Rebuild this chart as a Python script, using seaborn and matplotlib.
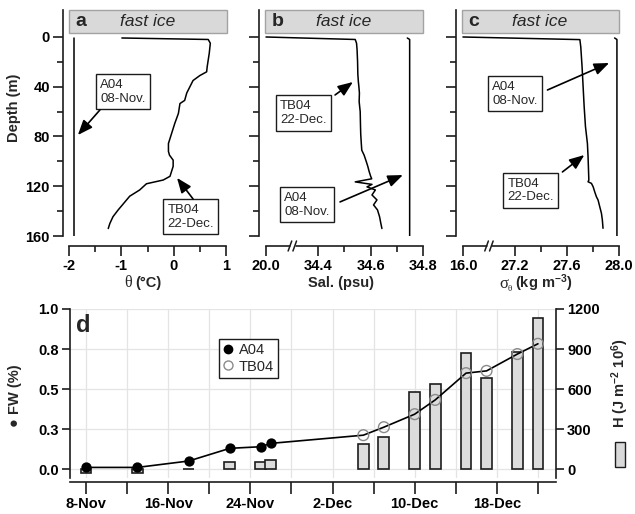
import numpy as np
import pandas as pd
import matplotlib
matplotlib.use("Agg")
import matplotlib.pyplot as plt
from matplotlib.patches import Rectangle
from matplotlib.lines import Line2D
import seaborn as sns

# ---------------- vertical profiles (depth in m) ----------------
a04_theta_depth = [1, 160]
a04_theta = [-1.90, -1.90]
tb04_theta_depth = [0.8, 2, 5, 13, 24, 28, 31, 35, 45, 51, 53.5, 61.5, 69.6, 77.6,
                    85.6, 92, 95, 99, 104, 112, 115, 118, 123, 128, 139, 144.5, 150, 154]
tb04_theta = [-0.99, 0.66, 0.70, 0.68, 0.64, 0.63, 0.50, 0.37, 0.25, 0.21, 0.12, 0.09,
              0.02, -0.04, -0.10, -0.10, -0.08, -0.01, -0.01, -0.07, -0.20, -0.52, -0.65,
              -0.84, -1.06, -1.16, -1.22, -1.25]

a04_sal_depth = [0.8, 2, 160]
a04_sal = [34.740, 34.749, 34.749]
tb04_sal_depth = [0, 2, 5, 10, 20, 30, 36, 40, 45, 52, 60, 70, 78, 85, 91, 95, 100, 104,
                  108, 112, 114, 116.5, 118.5, 120.5, 123, 127, 131, 135, 139, 144.5, 150, 154]
tb04_sal = [20.0, 34.541, 34.546, 34.548, 34.550, 34.551, 34.553, 34.555, 34.557, 34.556,
            34.560, 34.561, 34.562, 34.564, 34.566, 34.575, 34.583, 34.589, 34.594, 34.600,
            34.604, 34.541, 34.605, 34.586, 34.618, 34.605, 34.624, 34.611, 34.626, 34.634,
            34.639, 34.643]

a04_sig_depth = [0.8, 2, 160]
a04_sig = [27.966, 27.984, 27.984]
tb04_sig_depth = [0, 2.1, 8, 24, 40, 56, 72, 85.6, 96.3, 115, 116.4, 117.7, 120.4, 124.4,
                  128.4, 131.1, 136.5, 141.8, 147.2, 153.8]
tb04_sig = [16.0, 27.699, 27.706, 27.716, 27.724, 27.732, 27.742, 27.757, 27.762, 27.768,
            27.762, 27.788, 27.801, 27.813, 27.826, 27.839, 27.852, 27.865, 27.872, 27.877]

depth_ticks = [0, 40, 80, 120, 160]
depth_minor = [20, 60, 100, 140]
theta_ticks = [-2, -1, 0, 1]
sal_ticks = [20.0, 34.4, 34.6, 34.8]
sig_ticks = [16.0, 27.2, 27.6, 28.0]

# ---------------- time series ----------------
a04_dates = ["2004-11-08", "2004-11-13", "2004-11-18", "2004-11-22", "2004-11-25", "2004-11-26"]
a04_fw = [0.012, 0.012, 0.052, 0.131, 0.141, 0.162]
a04_heat = [-30, -30, 4, 57, 57, 69]
tb04_dates = ["2004-12-05", "2004-12-07", "2004-12-10", "2004-12-12",
              "2004-12-15", "2004-12-17", "2004-12-20", "2004-12-22"]
tb04_fw = [0.213, 0.263, 0.344, 0.433, 0.600, 0.614, 0.719, 0.783]
tb04_heat = [186, 241, 577, 635, 871, 680, 879, 1133]
fw_ticks = [0.0, 0.25, 0.5, 0.75, 1.0]
fw_tick_labels = ["0.0", "0.3", "0.5", "0.8", "1.0"]
heat_ticks = [0, 300, 600, 900, 1200]

sns.set_theme(style="ticks")
plt.rcParams["font.family"] = ["Liberation Sans", "DejaVu Sans"]
plt.rcParams["mathtext.default"] = "regular"
INK = "#1c1c1c"
plt.rcParams.update({
    "axes.edgecolor": INK, "axes.linewidth": 1.2,
    "xtick.color": INK, "ytick.color": INK,
    "xtick.major.width": 1.2, "ytick.major.width": 1.2,
    "xtick.minor.width": 1.2, "ytick.minor.width": 1.2,
    "xtick.labelcolor": "black", "ytick.labelcolor": "black",
})

W, H = 635, 514
fig = plt.figure(figsize=(W / 100, H / 100), dpi=100)


def px_rect(x0, x1, y_top, y_bot):
    return [x0 / W, (H - y_bot) / H, (x1 - x0) / W, (y_bot - y_top) / H]


def broken(v, lo, lo_pos, first):
    """Squeeze values below `first` into the short broken segment of the axis."""
    v = np.asarray(v, float)
    return np.where(v < first, lo_pos + (v - lo) / (first - lo) * (first - lo_pos), v)


def profile_panel(rect, xlim, xticks, xlabels, xminor, letter, show_ylabels):
    ax = fig.add_axes(rect)
    ax.set_xlim(*xlim)
    ax.set_ylim(160, -21.7)
    for s in ("top", "right"):
        ax.spines[s].set_visible(False)
    ax.spines["bottom"].set_position(("outward", 7.2))
    ax.spines["bottom"].set_bounds(xticks[0], xticks[-1])
    ax.set_xticks(xticks)
    ax.set_xticklabels(xlabels)
    ax.set_xticks(xminor, minor=True)
    ax.set_yticks(depth_ticks)
    ax.set_yticks(depth_minor, minor=True)
    ax.tick_params(which="major", length=7, direction="out", pad=2.5,
                   labelsize=10.5)
    ax.tick_params(which="minor", length=4.5, direction="out")
    for lab in ax.get_xticklabels() + ax.get_yticklabels():
        lab.set_fontweight("bold")
    if not show_ylabels:
        ax.tick_params(axis="y", labelleft=False)
    ax.set_xlabel("")
    ax.set_ylabel("")
    # header strip
    ax.add_patch(Rectangle((0.034, 0.898), 0.96, 0.102, transform=ax.transAxes,
                           facecolor="#d9d9d9", edgecolor="#a3a3a3", lw=1.0,
                           clip_on=False, zorder=5))
    ax.text(0.11, 0.947, letter, transform=ax.transAxes, ha="center", va="center",
            fontsize=14, fontweight="bold", zorder=6)
    ax.text(0.51, 0.947, "fast ice", transform=ax.transAxes, ha="center",
            va="center", fontsize=12.5, style="italic", zorder=6)
    return ax


def add_break(ax, frac):
    y = -10 / 226
    dx, dy = 1.8 / 165, 5 / 226
    ax.plot([frac - 2.2 / 165, frac + 2.2 / 165], [y, y], color="white", lw=2.5,
            transform=ax.transAxes, clip_on=False, zorder=8, solid_capstyle="butt")
    for off in (-2.4 / 165, 2.4 / 165):
        ax.plot([frac + off - dx, frac + off + dx], [y - dy, y + dy], color=INK,
                lw=1.1, transform=ax.transAxes, clip_on=False, zorder=9)


def label_box(ax, x, y, txt):
    ax.text(x, y, txt, ha="center", va="center", ma="left", fontsize=9.5, zorder=7,
            bbox=dict(boxstyle="square,pad=0.35", fc="white", ec=INK, lw=1.0))


def arrow(ax, head, tail):
    ax.annotate("", xy=head, xytext=tail, zorder=8,
                arrowprops=dict(arrowstyle="-|>,head_length=0.75,head_width=0.3",
                                color="black", lw=1.2, shrinkA=0, shrinkB=0))


def profile(ax, x, depth):
    df = pd.DataFrame({"x": x, "depth": depth})
    sns.lineplot(data=df, x="x", y="depth", sort=False, estimator=None,
                 color="black", lw=1.1, ax=ax)
    ax.set_xlabel("")
    ax.set_ylabel("")


# ---- (a) potential temperature ----
ax_a = profile_panel(px_rect(63, 228, 10, 236), (-2.1147, 1.038), theta_ticks,
                     [f"{t:d}" for t in theta_ticks], [-1.5, -0.5, 0.5], "a", True)
profile(ax_a, a04_theta, a04_theta_depth)
profile(ax_a, tb04_theta, tb04_theta_depth)
label_box(ax_a, -0.968, 44.2, "A04\n08-Nov.")
arrow(ax_a, (-1.83, 78.8), (-1.41, 58.7))
label_box(ax_a, 0.322, 144.7, "TB04\n22-Dec.")
arrow(ax_a, (0.064, 113.3), (0.37, 130.2))

# ---- (b) salinity, broken axis below 34.4 ----
sal_map = lambda v: broken(v, 20.0, 34.2, 34.4)
ax_b = profile_panel(px_rect(259, 424, 10, 236), (34.1733, 34.8038),
                     list(sal_map(sal_ticks)), [f"{t:.1f}" for t in sal_ticks],
                     [34.5, 34.7], "b", False)
profile(ax_b, sal_map(a04_sal), a04_sal_depth)
profile(ax_b, sal_map(tb04_sal), tb04_sal_depth)
add_break(ax_b, 0.202)
label_box(ax_b, 34.343, 61.1, "TB04\n22-Dec.")
arrow(ax_b, (34.532, 36.2), (34.464, 46.6))
label_box(ax_b, 34.357, 135.0, "A04\n08-Nov.")
arrow(ax_b, (34.723, 111.0), (34.483, 132.6))

# ---- (c) potential density, broken axis below 27.2 ----
sig_map = lambda v: broken(v, 16.0, 26.8, 27.2)
ax_c = profile_panel(px_rect(456, 620, 10, 236), (26.7465, 28.0076),
                     list(sig_map(sig_ticks)), [f"{t:.1f}" for t in sig_ticks],
                     [27.4, 27.8], "c", False)
profile(ax_c, sig_map(a04_sig), a04_sig_depth)
profile(ax_c, sig_map(tb04_sig), tb04_sig_depth)
add_break(ax_c, 0.201)
label_box(ax_c, 27.201, 45.8, "A04\n08-Nov.")
arrow(ax_c, (27.924, 20.9), (27.45, 42.6))
label_box(ax_c, 27.32, 123.4, "TB04\n22-Dec.")
arrow(ax_c, (27.733, 94.9), (27.565, 108.5))

# axis titles of the profile panels
fig.text(14 / W, 1 - 108 / H, "Depth (m)", rotation=90, ha="center", va="center",
         fontsize=10.5, fontweight="bold")
fig.text(128 / W, 1 - 283 / H, "θ", family="Liberation Serif", fontsize=11.5,
         ha="center", va="center")
fig.text(135 / W, 1 - 283 / H, "(°C)", fontsize=10.5, fontweight="bold",
         ha="left", va="center")
fig.text(341 / W, 1 - 283 / H, "Sal. (psu)", fontsize=10.5, fontweight="bold",
         ha="center", va="center")
fig.text(504 / W, 1 - 284 / H, "σ", family="Liberation Serif", fontsize=12,
         ha="center", va="center")
fig.text(510 / W, 1 - 289 / H, "θ", family="Liberation Serif", fontsize=6.5,
         ha="center", va="center")
fig.text(515 / W, 1 - 283 / H, "(kg m$^{-3}$)", fontsize=10.5, fontweight="bold",
         ha="left", va="center")

# ---------------- (d) fresh water and heat content ----------------
a04_t = pd.to_datetime(a04_dates)
tb04_t = pd.to_datetime(tb04_dates)
all_t = a04_t.append(tb04_t)
all_fw = list(a04_fw) + list(tb04_fw)

axd = fig.add_axes(px_rect(70, 556, 309, 478))
axh = axd.twinx()
axd.set_zorder(axh.get_zorder() + 1)
axd.patch.set_visible(False)

start = pd.Timestamp("2004-11-08")
axd.set_xlim(start - pd.Timedelta(days=1.56), start + pd.Timedelta(days=45.76))
axd.set_ylim(-0.054, 1.0)
axh.set_ylim(-0.054 * 1200, 1200)

date_ticks = pd.date_range("2004-11-08", "2004-12-22", freq="4D")
for d in date_ticks:
    axh.axvline(d, color="#e4e4e4", lw=0.9, zorder=0.5)
axh.set_yticks(heat_ticks)
axh.grid(axis="y", color="#e4e4e4", lw=0.9)
axh.set_axisbelow(True)

axh.bar(a04_t, a04_heat, width=1.05, color="#dcdcdc", edgecolor=INK, linewidth=1.2,
        zorder=2)
axh.bar(tb04_t, tb04_heat, width=1.05, color="#dcdcdc", edgecolor=INK, linewidth=1.2,
        zorder=2)

sns.lineplot(x=all_t, y=all_fw, color="black", lw=1.2, ax=axd, estimator=None)
sns.scatterplot(x=a04_t, y=a04_fw, color="black", s=55, linewidth=0, ax=axd, zorder=4)
sns.scatterplot(x=tb04_t, y=tb04_fw, color="none", edgecolor="#8a8a8a", s=60,
                linewidth=1.0, ax=axd, zorder=4)

axd.set_xticks(date_ticks)
axd.set_xticklabels([f"{d.day}-{d:%b}" if i % 2 == 0 else ""
                     for i, d in enumerate(date_ticks)])
axd.set_yticks(fw_ticks)
axd.set_yticklabels(fw_tick_labels)
axd.set_xlabel("")
axd.set_ylabel("")
axh.set_ylabel("")

for s in ("top", "right"):
    axd.spines[s].set_visible(False)
for s in ("top", "left", "bottom"):
    axh.spines[s].set_visible(False)
axd.spines["bottom"].set_position(("outward", 3))
axd.tick_params(axis="x", length=8.5, pad=2, labelsize=10.5)
axd.tick_params(axis="y", length=6, pad=2, labelsize=10.5)
axh.tick_params(axis="y", length=6, pad=2, labelsize=10.5)
for lab in axd.get_xticklabels() + axd.get_yticklabels() + axh.get_yticklabels():
    lab.set_fontweight("bold")

handles = [Line2D([], [], marker="o", ls="none", color="black", markersize=6),
           Line2D([], [], marker="o", ls="none", markerfacecolor="none",
                  markeredgecolor="#8a8a8a", markersize=6.5)]
leg = axd.legend(handles, ["A04", "TB04"], loc="upper left",
                 bbox_to_anchor=(219 / W, 1 - 339 / H), bbox_transform=fig.transFigure,
                 borderaxespad=0, fontsize=10.5, handlelength=0.6, handletextpad=0.45,
                 borderpad=0.3, labelspacing=0.15, fancybox=False, framealpha=1,
                 edgecolor=INK)
leg.get_frame().set_linewidth(1.0)

fig.text(83 / W, 1 - 325 / H, "d", fontsize=17, fontweight="bold", ha="center",
         va="center")
fig.text(15 / W, 1 - 396 / H, "● FW (%)", rotation=90, ha="center", va="center",
         fontsize=10.5, fontweight="bold")
fig.text(620 / W, 1 - 383 / H, "H (J m$^{-2}$ 10$^{6}$)", rotation=90, ha="center",
         va="center", fontsize=10.5, fontweight="bold")
fig.add_artist(Rectangle((615 / W, 1 - 467 / H), 10 / W, 25 / H,
                         transform=fig.transFigure, facecolor="#d9d9d9",
                         edgecolor=INK, lw=1.0))

fig.savefig("out.png", dpi=100)
